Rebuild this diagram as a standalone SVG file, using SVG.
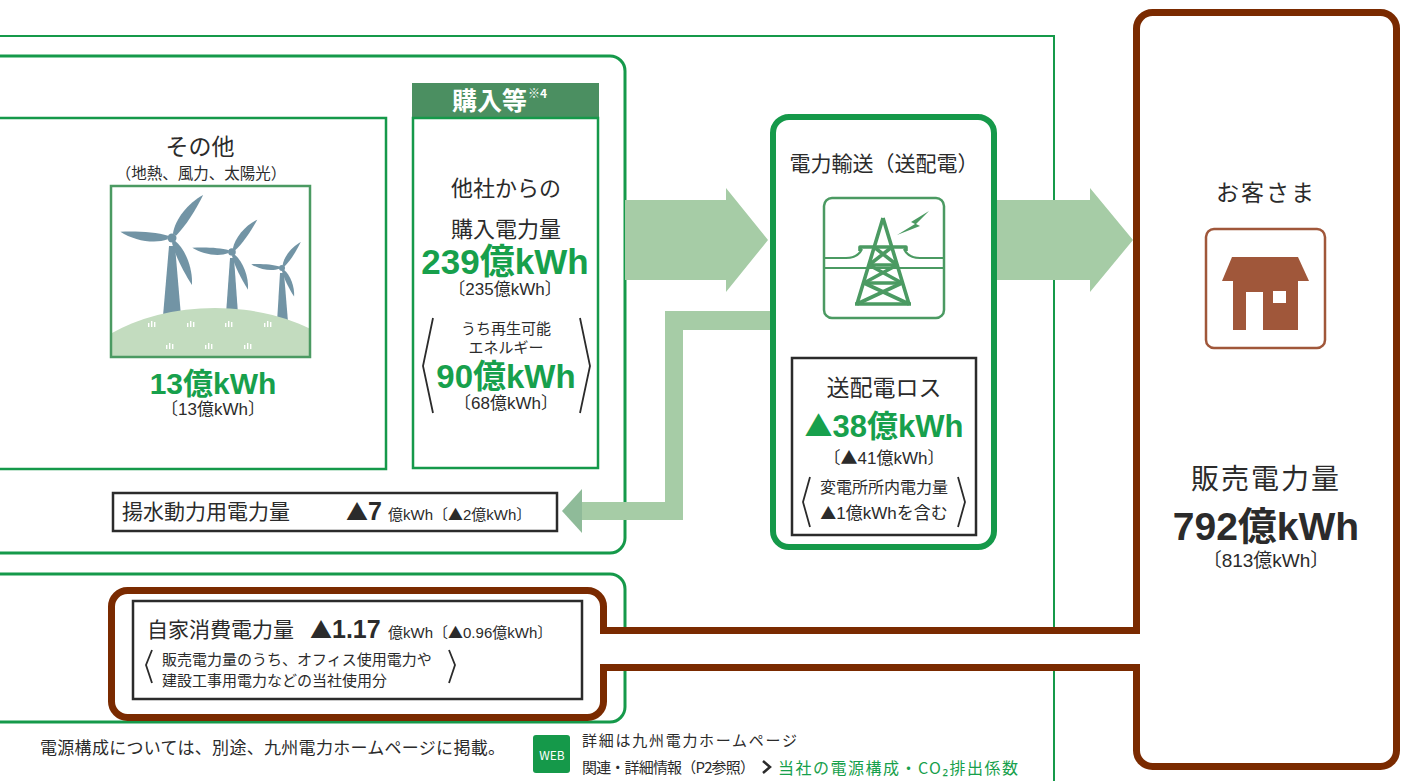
<svg xmlns="http://www.w3.org/2000/svg" xmlns:xlink="http://www.w3.org/1999/xlink" width="1403" height="781" viewBox="0 0 1403 781">
  <defs>
    <style>
      text { font-family: "Noto Sans CJK JP", "Noto Sans", sans-serif; fill: #2b2b2b; }
      .num { font-family: "Liberation Sans", "Noto Sans CJK JP", sans-serif; }
      .tri { font-family: "Noto Sans CJK JP", sans-serif; }
      .c { text-anchor: middle; }
      .b { font-weight: 700; }
      .gt { fill: #17a04c; }
      .wt { fill: #ffffff; }
      .frame { fill: none; stroke: #15994a; }
      .flow { fill: #a6cca6; }
      .bracket { fill: none; stroke: #2b2b2b; stroke-width: 1.8; }
      .brown { fill: none; stroke: #7a2a00; stroke-width: 7; }
      .icon { fill: none; stroke: #4b9a62; }
    </style>
    <path id="blade" d="M4,-1.8 C 16,-8 36,-7 50,0 C 36,2.5 16,4 4,1.8 Z" fill="#7294a5"/>
    <g id="tuft" fill="#ffffff">
      <rect x="-4" y="-2" width="1.4" height="4"/>
      <rect x="-1" y="-4" width="1.4" height="6"/>
      <rect x="2" y="-3" width="1.4" height="5"/>
    </g>
    <clipPath id="windClip">
      <rect x="112" y="187" width="197" height="169"/>
    </clipPath>
  </defs>

  <!-- outer frame of the supply side -->
  <path class="frame" stroke-width="2" d="M -10 36 H 1054 V 790"/>

  <!-- group frames -->
  <g id="group-generation">
    <path class="frame" stroke-width="3" fill="#fff" d="M -10 56 H 610 A 15 15 0 0 1 625 71 V 538 A 15 15 0 0 1 610 553 H -10"/>
  </g>
  <g id="group-selfuse">
    <path class="frame" stroke-width="3" fill="#fff" d="M -10 574 H 610 A 15 15 0 0 1 625 589 V 707 A 15 15 0 0 1 610 722 H -10"/>
  </g>

  <!-- connectors -->
  <g id="connectors">
    <path class="flow" d="M 625 200 H 726 V 188 L 768 240 L 726 292 V 280 H 625 Z"/>
    <path class="flow" d="M 997 200 H 1090 V 188 L 1133 240 L 1090 292 V 280 H 997 Z"/>
    <path class="flow" d="M 772 311 H 665 V 502 H 581 V 520 H 683 V 330 H 772 Z"/>
    <path fill="#8fbb99" d="M 582 489 L 562 511 L 582 533 Z"/>
  </g>

  <!-- その他 -->
  <g id="node-other">
    <rect x="-10" y="118" width="396" height="351" fill="#fff" stroke="#15994a" stroke-width="2.5"/>
    <text class="c" x="200" y="155" font-size="23">その他</text>
    <text class="c" x="201" y="179" font-size="15.5">（地熱、風力、太陽光）</text>
    <g clip-path="url(#windClip)">
      <rect x="112" y="187" width="197" height="169" fill="#fff"/>
      <!-- towers -->
      <polygon points="169,246 175,246 181,316 163,316" fill="#7294a5"/>
      <polygon points="230,258 234,258 238,314 226,314" fill="#7294a5"/>
      <polygon points="280,273 284,273 288,322 277,322" fill="#7294a5"/>
      <!-- rotors -->
      <use xlink:href="#blade" transform="translate(172,238) rotate(-54) scale(1.06)"/>
      <use xlink:href="#blade" transform="translate(172,238) rotate(187) scale(1.04)"/>
      <use xlink:href="#blade" transform="translate(172,238) rotate(67) scale(1.02)"/>
      <circle cx="172" cy="238" r="4.5" fill="#7294a5"/>
      <use xlink:href="#blade" transform="translate(232,252) rotate(-52) scale(0.82)"/>
      <use xlink:href="#blade" transform="translate(232,252) rotate(186) scale(0.8)"/>
      <use xlink:href="#blade" transform="translate(232,252) rotate(67) scale(0.82)"/>
      <circle cx="232" cy="252" r="3.8" fill="#7294a5"/>
      <use xlink:href="#blade" transform="translate(282,268) rotate(-54) scale(0.64)"/>
      <use xlink:href="#blade" transform="translate(282,268) rotate(187) scale(0.62)"/>
      <use xlink:href="#blade" transform="translate(282,268) rotate(67) scale(0.62)"/>
      <circle cx="282" cy="268" r="3" fill="#7294a5"/>
      <!-- hill -->
      <ellipse cx="215" cy="400" rx="150" ry="92" fill="#c3dcbf"/>
      <use xlink:href="#tuft" x="152" y="325"/>
      <use xlink:href="#tuft" x="191" y="325"/>
      <use xlink:href="#tuft" x="229" y="325"/>
      <use xlink:href="#tuft" x="268" y="325"/>
      <use xlink:href="#tuft" x="170" y="347"/>
      <use xlink:href="#tuft" x="209" y="347"/>
      <use xlink:href="#tuft" x="248" y="347"/>
    </g>
    <rect x="111" y="186" width="199" height="171" fill="none" stroke="#4b9a62" stroke-width="2.5"/>
    <text class="c b gt num" x="213" y="394" font-size="30">13億kWh</text>
    <text class="c num" x="213" y="415" font-size="17">〔13億kWh〕</text>
  </g>

  <!-- 購入等 -->
  <g id="node-purchase">
    <rect x="412" y="83" width="187" height="35" fill="#4b8f61"/>
    <rect x="413" y="118" width="185" height="350" fill="#fff" stroke="#15994a" stroke-width="2.5"/>
    <text class="b wt" x="452" y="110" font-size="25">購入等</text>
    <text class="wt b" x="528" y="98" font-size="12">※4</text>
    <text class="c" x="506" y="196" font-size="22">他社からの</text>
    <text class="c" x="506" y="237" font-size="22">購入電力量</text>
    <text class="c b gt num" x="505" y="274" font-size="35">239億kWh</text>
    <text class="c num" x="505" y="295" font-size="17">〔235億kWh〕</text>
    <text class="c" x="506" y="334" font-size="15">うち再生可能</text>
    <text class="c" x="506" y="353" font-size="15">エネルギー</text>
    <text class="c b gt num" x="506" y="388" font-size="33">90億kWh</text>
    <text class="c num" x="506" y="409" font-size="17">〔68億kWh〕</text>
    <path class="bracket" d="M 433 318 L 423 366 L 433 413"/>
    <path class="bracket" d="M 580 318 L 590 366 L 580 413"/>
  </g>

  <!-- 揚水動力用電力量 -->
  <g id="node-pumping">
    <rect x="113" y="493" width="444" height="38" fill="#fff" stroke="#2b2b2b" stroke-width="2.5"/>
    <text x="122" y="519" font-size="21">揚水動力用電力量</text>
    <text x="346" y="520" font-size="25" class="b num"><tspan class="tri" font-size="22">▲</tspan>7</text>
    <text x="388" y="520" font-size="15" class="num">億kWh〔<tspan class="tri">▲</tspan>2億kWh〕</text>
  </g>

  <!-- 電力輸送（送配電） -->
  <g id="node-transmission">
    <rect x="773" y="117" width="221" height="430" rx="16" fill="#fff" stroke="#15994a" stroke-width="6"/>
    <text class="c" x="884" y="171" font-size="21">電力輸送（送配電）</text>
    <rect x="824" y="198" width="120" height="120" rx="8" class="icon" stroke-width="2.5"/>
    <!-- wires -->
    <g class="icon" stroke-width="2.2">
      <path d="M 825 258 H 846 Q 858 258 862 249"/>
      <path d="M 943 258 H 920 Q 908 258 904 249"/>
      <path d="M 825 268 H 943"/>
    </g>
    <!-- pylon -->
    <g class="icon" stroke-width="3.6" stroke-linejoin="round">
      <path d="M 883 218 L 857 304 M 883 218 L 909 304"/>
      <path d="M 855 304 H 911"/>
      <path d="M 860 251 V 247 H 906 V 251"/>
      <path d="M 869 265 H 897 M 864 283 H 902"/>
      <path d="M 874 247 L 897 265 M 892 247 L 869 265"/>
      <path d="M 869 265 L 902 283 M 897 265 L 864 283"/>
      <path d="M 864 283 L 909 304 M 902 283 L 857 304"/>
    </g>
    <polygon points="929,211 911,222 915,224 897,235 920,226 916,224" fill="#4b9a62"/>
    <!-- losses -->
    <rect x="792" y="358" width="184" height="177" fill="#fff" stroke="#2b2b2b" stroke-width="2.5"/>
    <text class="c" x="884" y="396" font-size="23">送配電ロス</text>
    <text class="c b gt num" x="884" y="437" font-size="31"><tspan class="tri" font-size="28">▲</tspan>38億kWh</text>
    <text class="c num" x="884" y="464" font-size="17">〔<tspan class="tri">▲</tspan>41億kWh〕</text>
    <text class="c" x="884" y="493" font-size="16">変電所所内電力量</text>
    <text class="c num" x="884" y="519" font-size="17"><tspan class="tri" font-size="16">▲</tspan>1億kWhを含む</text>
    <path class="bracket" d="M 810 477 L 803 502 L 810 527"/>
    <path class="bracket" d="M 958 477 L 965 502 L 958 527"/>
  </g>

  <!-- お客さま -->
  <g id="node-customer">
    <rect x="1136.5" y="12.5" width="260" height="754" rx="16" fill="#fff" class="brown"/>
    <text class="c" x="1266" y="201" font-size="23" letter-spacing="2">お客さま</text>
    <rect x="1206" y="229" width="119" height="119" rx="8" fill="none" stroke="#a0573a" stroke-width="2.5"/>
    <polygon points="1232,257 1298,257 1309,281 1222,281" fill="#a0573a"/>
    <path d="M 1233 280 H 1298 V 330 H 1263 V 292 H 1246 V 330 H 1233 Z" fill="#a0573a"/>
    <rect x="1273" y="291" width="13" height="12" fill="#fff"/>
    <text class="c" x="1266" y="489" font-size="28" letter-spacing="2">販売電力量</text>
    <text class="c b num" x="1266" y="540" font-size="39">792億kWh</text>
    <text class="c num" x="1266" y="567" font-size="19">〔813億kWh〕</text>
  </g>

  <!-- 自家消費電力量 -->
  <g id="node-selfuse">
    <rect x="111.5" y="590.5" width="492" height="127" rx="16" fill="#fff" class="brown"/>
    <rect x="133" y="601" width="449" height="98" fill="#fff" stroke="#2b2b2b" stroke-width="2.5"/>
    <text x="147" y="637" font-size="21">自家消費電力量</text>
    <text x="310" y="638" font-size="25" class="b num"><tspan class="tri" font-size="22">▲</tspan>1.17</text>
    <text x="388" y="638" font-size="15" class="num">億kWh〔<tspan class="tri">▲</tspan>0.96億kWh〕</text>
    <text x="162" y="665" font-size="15">販売電力量のうち、オフィス使用電力や</text>
    <text x="162" y="686" font-size="15">建設工事用電力などの当社使用分</text>
    <path class="bracket" d="M 152 650 L 146 665 L 152 683"/>
    <path class="bracket" d="M 449 650 L 455 665 L 449 683"/>
  </g>

  <!-- channel from self use to customer -->
  <g id="selfuse-link">
    <rect x="600" y="634" width="541" height="30" fill="#fff"/>
    <path class="brown" d="M 601 630.5 H 1140"/>
    <path class="brown" d="M 601 667.5 H 1140"/>
  </g>

  <!-- footnotes -->
  <g id="footer">
    <text x="40" y="754" font-size="17" textLength="465">電源構成については、別途、九州電力ホームページに掲載。</text>
    <rect x="533" y="735" width="37" height="38" rx="3" fill="#15994a"/>
    <text class="c wt" x="552" y="760" font-size="12">WEB</text>
    <text x="582" y="746" font-size="15" textLength="215">詳細は九州電力ホームページ</text>
    <text x="582" y="773" font-size="15" textLength="173">関連・詳細情報（P2参照）</text>
    <path d="M 763 761 L 770 767 L 763 773" fill="none" stroke="#2b2b2b" stroke-width="2.5"/>
    <text x="778" y="774" font-size="16" class="gt" textLength="240">当社の電源構成・CO₂排出係数</text>
  </g>
</svg>
